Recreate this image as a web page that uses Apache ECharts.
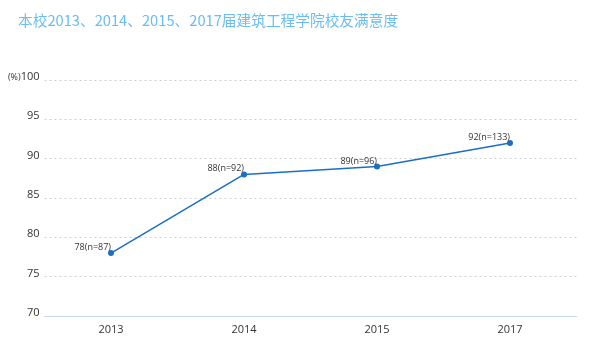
<!DOCTYPE html>
<html><head><meta charset="utf-8">
<script src="https://cdn.jsdelivr.net/npm/echarts@6/dist/echarts.min.js"></script>
<style>html,body{margin:0;padding:0;background:#fff}#c{width:589px;height:355px}</style>
</head><body><div id="c"></div>
<script>
var titleText = '本校2013、2014、2015、2017届建筑工程学院校友满意度';
var categories = ['2013', '2014', '2015', '2017'];
var values = [78, 88, 89, 92];
var sampleSizes = [87, 92, 96, 133];
var yMin = 70, yMax = 100, yStep = 5;

var chart = echarts.init(document.getElementById('c'));
chart.setOption({
  animation: false,
  title: {
    text: titleText, left: 13, top: 8,
    textStyle: {color: '#6abdf3', fontSize: 14.7, fontWeight: 'normal', fontFamily: 'Noto Sans CJK SC'}
  },
  grid: {left: 44.5, right: 12.5, top: 80, bottom: 39},
  xAxis: {
    type: 'category', data: categories, boundaryGap: true,
    axisLine: {lineStyle: {color: '#c6dbef'}},
    axisTick: {show: false},
    axisLabel: {color: '#333', fontSize: 11, margin: 8, fontFamily: 'Open Sans'}
  },
  yAxis: {
    type: 'value', min: yMin, max: yMax, interval: yStep,
    axisLine: {show: false}, axisTick: {show: false},
    axisLabel: {
      color: '#333', fontSize: 11, margin: 5, fontFamily: 'Open Sans',
      padding: [0, 0, 6, 0],
      formatter: function (v) { return v === yMax ? '{u|(%)}' + v : String(v); },
      rich: {u: {fontSize: 9, color: '#333'}}
    },
    splitLine: {lineStyle: {color: '#d0d0d0', type: [2, 3]}}
  },
  series: [{
    type: 'line',
    data: values,
    symbol: 'circle', symbolSize: 6,
    lineStyle: {color: '#1a6fc4', width: 1.5},
    itemStyle: {color: '#1a6fc4'},
    label: {
      show: true, position: 'left', distance: 1, offset: [4, -5.5],
      fontSize: 9, color: '#333', fontFamily: 'Open Sans',
      formatter: function (p) { return p.value + '(n=' + sampleSizes[p.dataIndex] + ')'; }
    }
  }]
});
</script></body></html>
